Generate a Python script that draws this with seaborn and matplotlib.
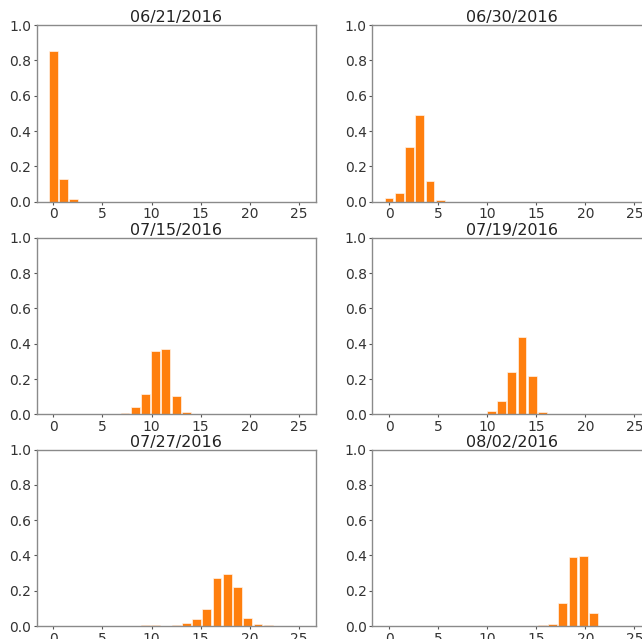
import numpy as np
import seaborn as sns
import matplotlib
matplotlib.use('Agg')
import matplotlib.pyplot as plt

# bin centres shared by every panel (25 bins spread over 0..25)
BINS = np.linspace(0, 25, 25)

DATES = ['06/21/2016', '06/30/2016', '07/15/2016',
         '07/19/2016', '07/27/2016', '08/02/2016']

# fraction per bin, index = bin number
P_0621 = [0.855, 0.128, 0.017] + [0] * 22
P_0630 = [0.023, 0.047, 0.311, 0.490, 0.119, 0.008] + [0] * 19
P_0715 = [0] * 7 + [0.008, 0.040, 0.113, 0.358, 0.372, 0.102, 0.011] + [0] * 11
P_0719 = [0] * 9 + [0.004, 0.021, 0.077, 0.238, 0.440, 0.215, 0.015] + [0] * 9
P_0727 = ([0] * 9 + [0.003, 0.003, 0, 0.008, 0.015, 0.038, 0.098,
                     0.272, 0.292, 0.219, 0.047, 0.011, 0.004] + [0] * 3)
P_0802 = [0] * 15 + [0.003, 0.011, 0.130, 0.389, 0.396, 0.072] + [0] * 4

SERIES = [P_0621, P_0630, P_0715, P_0719, P_0727, P_0802]

ORANGE = '#ff7f0e'

plt.rcParams['font.family'] = 'DejaVu Sans'
plt.rcParams['axes.edgecolor'] = '#8a8a8a'
plt.rcParams['axes.linewidth'] = 1.0

fig = plt.figure(figsize=(6.42, 6.39), dpi=100)

# axes boxes in figure fractions; right column runs past the figure edge
col_x = [0.0572, 0.580]
row_y = [0.6844, 0.3516, 0.0203]
w, h = 0.435, 0.2762

for i, (date, vals) in enumerate(zip(DATES, SERIES)):
    r, c = divmod(i, 2)
    ax = fig.add_axes([col_x[c], row_y[r], w, h])
    sns.barplot(x=BINS, y=vals, native_scale=True, color=ORANGE,
                saturation=1, edgecolor='#fff4ea', linewidth=0.5,
                width=0.86, errorbar=None, ax=ax)
    ax.set_xlim(-1.7, 26.75)
    ax.set_ylim(0, 1.0)
    ax.set_yticks([0, 0.2, 0.4, 0.6, 0.8, 1.0])
    ax.set_xticks([0, 5, 10, 15, 20, 25])
    ax.tick_params(length=2.5, width=0.8, color='#555555', pad=1.5,
                   labelsize=10, labelcolor='#333333')
    ax.set_title(date, fontsize=11.5, pad=2, color='#222222')
    ax.set_xlabel('')
    ax.set_ylabel('')

fig.savefig('out.png', dpi=100)
